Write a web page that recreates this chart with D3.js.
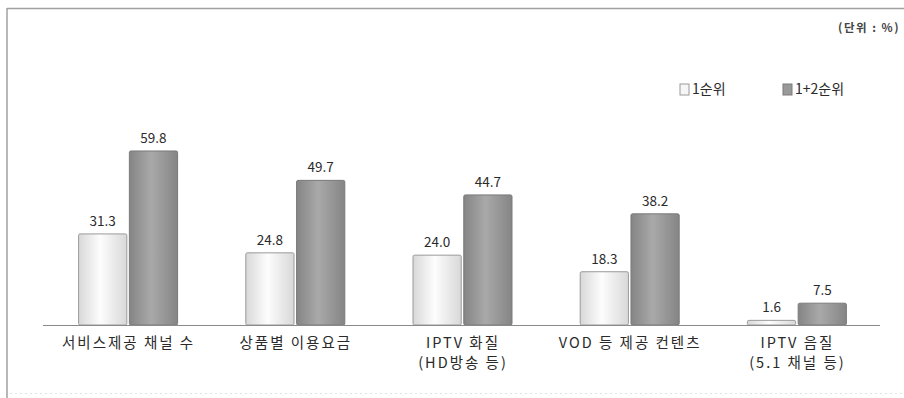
<!DOCTYPE html>
<html>
<head>
<meta charset="utf-8">
<script src="https://cdn.jsdelivr.net/npm/d3@7"></script>
<style>
  body { margin: 0; background: #fff; }
  text { font-family: "Noto Sans CJK KR", "Noto Sans", sans-serif; fill: #2a2a2a; }
</style>
</head>
<body>
<div id="chart"></div>
<script>
// categories (line breaks marked with \n)
let categories = ["서비스제공 채널 수", "상품별 이용요금", "IPTV 화질\n(HD방송 등)", "VOD 등 제공 컨텐츠", "IPTV 음질\n(5.1 채널 등)"]
let seriesNames = ["1순위", "1+2순위"]
let rank1 = [31.3, 24.8, 24.0, 18.3, 1.6]
let rank12 = [59.8, 49.7, 44.7, 38.2, 7.5]
let unitLabel = "(단위 : %)"

let svg_width = 904
let svg_height = 398
let baseY = 325

let svg = d3.select("#chart")
  .append("svg")
  .attr("width", svg_width)
  .attr("height", svg_height)

// gradients for the cylinder-like bars
let defs = svg.append("defs")
function addGradient(id, edge, mid) {
  let g = defs.append("linearGradient").attr("id", id)
    .attr("x1", "0%").attr("x2", "100%").attr("y1", "0%").attr("y2", "0%")
  g.append("stop").attr("offset", "0%").attr("stop-color", edge)
  g.append("stop").attr("offset", "45%").attr("stop-color", mid)
  g.append("stop").attr("offset", "100%").attr("stop-color", edge)
}
addGradient("gLight", "#d8d8d8", "#fdfdfd")
addGradient("gDark", "#858585", "#a9a9a9")

let fills = ["url(#gLight)", "url(#gDark)"]
let strokes = ["#9a9a9a", "#7a7a7a"]

// frame: top and left gray lines, dotted bottom
svg.append("line").attr("x1", 7).attr("x2", svg_width).attr("y1", 8.5).attr("y2", 8.5)
  .attr("stroke", "#a0a0a0").attr("stroke-width", 1.5)
svg.append("line").attr("x1", 7).attr("x2", 7).attr("y1", 8).attr("y2", svg_height)
  .attr("stroke", "#a0a0a0").attr("stroke-width", 1.5)
svg.append("line").attr("x1", 10).attr("x2", svg_width).attr("y1", 393.5).attr("y2", 393.5)
  .attr("stroke", "#e2e2e2").attr("stroke-width", 1).attr("stroke-dasharray", "2,3")

// scales
let xScale = d3.scaleBand()
  .domain(categories)
  .range([44, 880])

let subScale = d3.scaleBand()
  .domain(seriesNames)
  .range([-49, 50])
  .paddingInner(0.05)

let yScale = d3.scaleLinear()
  .domain([0, 60])
  .range([baseY, baseY - 174.6])

let data = categories.map((c, i) => ({cat: c, values: [rank1[i], rank12[i]]}))

let groups = svg.selectAll("g.group")
  .data(data)
  .enter()
  .append("g")
  .attr("class", "group")
  .attr("transform", d => `translate(${xScale(d.cat) + xScale.bandwidth() / 2},0)`)

function setBarAttrs(selection) {
  selection
    .attr("x", (d, i) => subScale(seriesNames[i]))
    .attr("y", d => yScale(d))
    .attr("width", subScale.bandwidth())
    .attr("height", d => baseY - yScale(d))
    .attr("rx", 1.5)
    .style("fill", (d, i) => fills[i])
    .style("stroke", (d, i) => strokes[i])
    .style("stroke-width", 1)
}

groups.selectAll("rect")
  .data(d => d.values)
  .enter()
  .append("rect")
  .call(setBarAttrs)

groups.selectAll("text.value")
  .data(d => d.values)
  .enter()
  .append("text")
  .attr("class", "value")
  .attr("x", (d, i) => subScale(seriesNames[i]) + subScale.bandwidth() / 2)
  .attr("y", d => yScale(d) - 8)
  .attr("text-anchor", "middle")
  .style("font-size", "13.5px")
  .text(d => d.toFixed(1))

// category labels, spaced out like the original
groups.append("text")
  .attr("class", "cat")
  .attr("text-anchor", "middle")
  .style("font-size", "14.5px")
  .style("letter-spacing", "2px")
  .selectAll("tspan")
  .data(d => d.cat.split("\n"))
  .enter()
  .append("tspan")
  .attr("x", 1)
  .attr("y", (d, i) => 348 + i * 20)
  .text(d => d)

// baseline
svg.append("line")
  .attr("x1", 43).attr("x2", 880)
  .attr("y1", baseY + 0.5).attr("y2", baseY + 0.5)
  .attr("stroke", "#8a8a8a").attr("stroke-width", 1.2)

// unit
svg.append("text")
  .attr("x", 900).attr("y", 32)
  .attr("text-anchor", "end")
  .style("font-size", "11.5px")
  .style("font-weight", "bold")
  .style("letter-spacing", "1.5px")
  .style("fill", "#444")
  .text(unitLabel)

// legend
let legendX = [680, 783]
let legend = svg.selectAll("g.legend")
  .data(seriesNames)
  .enter()
  .append("g")
  .attr("class", "legend")
  .attr("transform", (d, i) => `translate(${legendX[i]},83)`)

legend.append("rect")
  .attr("x", 0).attr("y", 1)
  .attr("width", 9).attr("height", 11)
  .style("fill", (d, i) => i === 0 ? "#f6f6f6" : "#999")
  .style("stroke", (d, i) => strokes[i])

legend.append("text")
  .attr("x", 12).attr("y", 11)
  .style("font-size", "14px")
  .text(d => d)
</script>
</body>
</html>
